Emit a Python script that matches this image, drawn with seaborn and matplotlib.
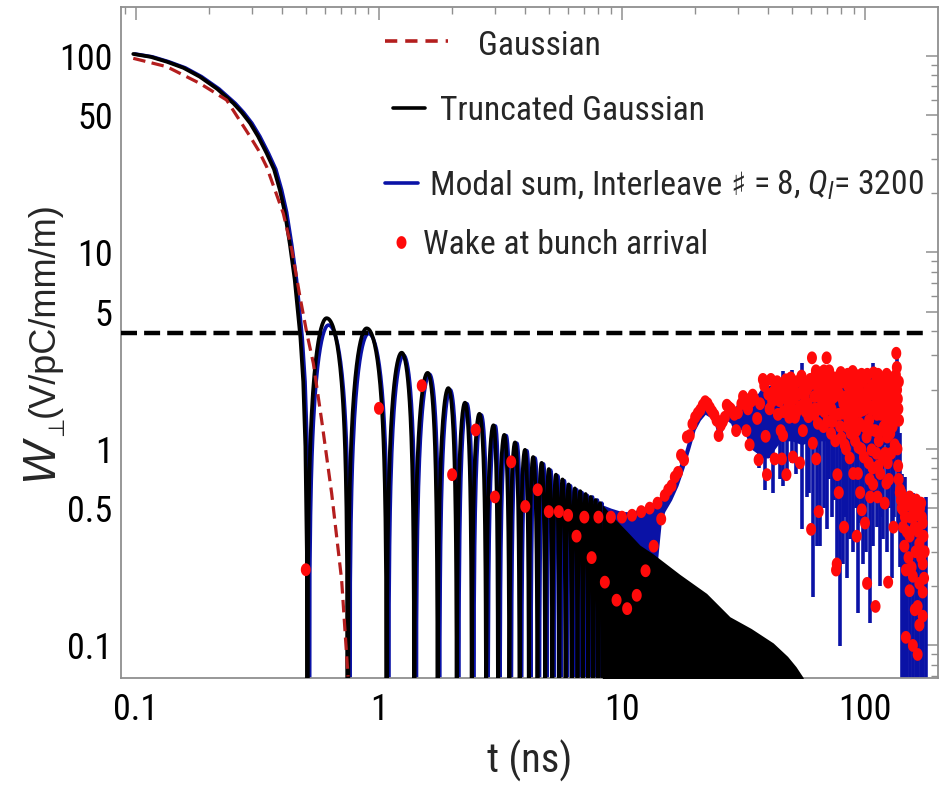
import numpy as np
import matplotlib
matplotlib.use("Agg")
import matplotlib.pyplot as plt
import seaborn as sns
from matplotlib import font_manager
from matplotlib.path import Path
from matplotlib.lines import Line2D
from matplotlib.ticker import LogLocator, NullFormatter
import matplotlib.transforms as mtransforms

# ---------------- data ----------------
gauss_t = [0.0975, 0.134, 0.183, 0.236, 0.295, 0.319, 0.345, 0.386, 0.404, 0.438,
           0.473, 0.505, 0.537, 0.581, 0.639, 0.702, 0.746]
gauss_w = [97.3, 88.2, 72.6, 59.7, 38.9, 33.2, 27.3, 18.5, 15.8, 10.3,
           5.96, 3.88, 2.73, 1.40, 0.593, 0.216, 0.0695]

# truncated Gaussian: initial decay, then lobes between zero crossings
tg_decay_t = [0.0975, 0.115, 0.134, 0.157, 0.183, 0.216, 0.252, 0.273, 0.295, 0.318, 0.345,
              0.370, 0.391, 0.410, 0.430, 0.450, 0.465, 0.475, 0.488, 0.498, 0.505]
tg_decay_w = [102.4, 99.0, 93.5, 87.0, 78.5, 68.0, 57.4, 51.5, 45.5, 39.0, 32.0,
              26.5, 20.8, 16.0, 11.0, 7.3, 4.8, 3.7, 2.2, 1.03, 0.3]
tg_zero_t = [0.507, 0.744, 1.076, 1.397, 1.744, 2.09, 2.41, 2.76, 3.09, 3.44, 3.79, 4.14,
             4.49, 4.83, 5.17, 5.52, 5.86, 6.22, 6.56, 6.9, 7.26, 7.6, 7.95, 8.3]
tg_peak_t = [0.609, 0.89, 1.24, 1.586, 1.93, 2.26, 2.59, 2.96, 3.28, 3.63, 3.99, 4.31,
             4.67, 5.0, 5.35, 5.69, 6.03, 6.4, 6.73, 7.08, 7.43, 7.78, 8.12]
tg_peak_w = [4.63, 4.11, 3.09, 2.44, 2.04, 1.72, 1.51, 1.32, 1.18, 1.08, 0.99, 0.91,
             0.85, 0.79, 0.74, 0.70, 0.66, 0.63, 0.61, 0.59, 0.57, 0.55, 0.53]
# envelope of the dense (unresolved) oscillation region
tg_env_t = [8.3, 9.2, 10.5, 11.85, 13.4, 17.3, 22.3, 27.8, 34.0, 41.9, 48.0, 52.0, 55.7]
tg_env_w = [0.52, 0.45, 0.38, 0.324, 0.293, 0.23, 0.184, 0.14, 0.122, 0.103, 0.088, 0.078, 0.0686]

# modal sum
ms_peak_w = [4.27, 3.87, 3.0, 2.4, 2.0, 1.7, 1.49, 1.31, 1.17, 1.07, 0.98, 0.9,
             0.84, 0.78, 0.73, 0.69, 0.65, 0.62, 0.6, 0.58, 0.57, 0.55, 0.53]
ms_band_t = [8.3, 9, 10, 11, 12, 13, 13.5, 14, 14.5, 15, 16, 17, 18, 19, 20, 21, 22, 23, 24, 25,
             26, 27, 28, 29, 30, 32, 34, 36, 38, 40, 45, 50, 55, 60, 70, 80, 90, 100, 110, 120,
             130, 136]
ms_band_lo = [0.3, 0.3, 0.3, 0.28, 0.26, 0.26, 0.27, 0.27, 0.42, 0.48, 0.55, 0.65, 0.8, 1.0, 1.25,
              1.4, 1.5, 1.45, 1.35, 1.1, 1.25, 1.4, 1.35, 1.2, 1.3, 1.2, 1.0, 0.95, 0.9, 0.9,
              1.1, 1.1, 1.05, 1.1, 1.1, 1.05, 1.1, 1.0, 1.1, 1.05, 1.1, 1.0]
ms_band_hi = [0.52, 0.5, 0.48, 0.48, 0.5, 0.52, 0.54, 0.56, 0.58, 0.6, 0.68, 0.8, 0.95, 1.2, 1.45,
              1.6, 1.75, 1.65, 1.55, 1.45, 1.5, 1.7, 1.65, 1.6, 1.75, 1.85, 1.9, 1.9, 2.1, 2.1,
              2.2, 2.3, 2.3, 2.4, 2.3, 2.3, 2.3, 2.3, 2.3, 2.2, 2.2, 2.3]
ms_spike_t = [32.6, 34.7, 36.5, 38.8, 40.5, 42.0, 44.7, 45.9, 47.6, 49.9, 52.0, 55.2, 57.5,
              59.0, 60.9, 63.3, 65.3, 67.5, 69.5, 71.0, 72.9, 74.5, 76.5, 78.9, 81.0, 83.0,
              84.1, 87.0, 89.5, 91.5, 93.9, 96.0, 98.4, 101.0, 103.0, 104.8, 108.2, 110.0,
              112.0, 115.3, 117.0, 119.0, 122.8, 125.0, 128.8, 130.5, 132.0, 135.0, 136.5,
              139.0, 141.5, 143.5, 146.1, 149.0, 153.2, 158.1, 162.0, 165.8, 170.0, 173.9, 178.3]
ms_spike_lo = [1.24, 1.0, 0.8, 0.62, 0.9, 0.6, 0.7, 0.65, 0.7, 0.85, 0.75, 0.39, 0.57,
               0.6, 0.177, 0.32, 0.32, 0.5, 0.39, 0.7, 0.45, 0.55, 0.25, 0.099, 0.26, 0.45,
               0.22, 0.35, 0.3, 0.5, 0.146, 0.42, 0.26, 0.3, 0.55, 0.13, 0.32, 0.6,
               0.4, 0.2, 0.45, 0.35, 0.3, 0.5, 0.22, 0.38, 0.45, 0.85, 0.39,
               0.25, 0.001, 0.001, 0.001, 0.001, 0.001, 0.001, 0.001, 0.001, 0.001, 0.001, 0.001]
ms_spike_hi = [1.85, 1.9, 1.7, 1.9, 2.0, 1.95, 2.24, 2.5, 2.3, 2.52, 2.04, 2.73, 1.85,
               2.3, 2.52, 2.4, 2.5, 2.2, 2.24, 2.2, 1.8, 2.1, 2.0, 2.6, 2.2, 2.2,
               2.24, 2.0, 2.4, 2.3, 2.5, 2.2, 2.2, 2.3, 2.2, 2.5, 2.73, 2.3,
               2.0, 2.24, 2.1, 1.9, 2.3, 2.2, 2.1, 2.3, 2.2, 3.0, 2.7,
               1.2, 0.75, 0.7, 0.72, 0.6, 0.57, 0.6, 0.55, 0.55, 0.5, 0.53, 0.57]

# wake at bunch arrival
wake_t = [0.5, 1.0, 1.5, 2.0, 2.5, 3.0, 3.5, 4.0, 4.5, 5.0, 5.5, 6.0, 6.5, 7.0, 7.5, 8.0, 8.5,
          9.0, 9.5, 10.0, 10.5, 11.0, 11.5, 12.0, 12.5, 13.0, 13.5, 14.0, 14.5, 15.0, 15.5,
          16.0, 16.5, 17.0, 17.5, 18.0, 18.5, 19.0, 19.5, 20.0, 20.5, 21.0, 21.5, 22.0, 22.5,
          23.0, 23.5, 24.0, 24.5, 25.0, 25.5, 26.0, 26.5, 27.0, 27.5, 28.0, 28.5, 29.0, 29.5,
          30.0, 31.0, 31.5, 32.0, 32.5, 33.0, 33.5, 34.0, 34.5, 35.0, 36.0, 36.5, 37.0, 38.0,
          38.5, 39.0, 39.5, 40.0, 41.0, 42.0, 42.5, 43.0, 43.5, 44.5, 45.0, 45.0, 45.5, 46.0,
          46.5, 47.0, 47.5, 48.0, 48.5, 49.0, 50.0, 50.5, 51.0, 52.0, 52.5, 53.0, 54.0, 54.5,
          55.0, 55.5, 56.0, 57.0, 57.5, 58.0, 58.5, 59.5, 60.0, 60.5, 61.0, 61.5, 62.0, 62.5,
          63.0, 63.5, 64.0, 64.5, 65.5, 66.0, 66.5, 67.0, 67.5, 68.0, 68.5, 69.0, 69.5, 70.0,
          70.5, 71.0, 71.5, 72.0, 72.5, 73.0, 73.5, 74.0, 74.5, 75.0, 75.5, 76.0, 76.5, 77.0,
          77.5, 78.0, 78.5, 79.0, 80.0, 80.5, 81.0, 81.5, 82.0, 82.5, 83.0, 83.5, 84.0, 84.5,
          85.0, 85.5, 86.0, 86.5, 87.0, 87.5, 88.0, 88.5, 89.0, 89.5, 90.0, 90.5, 91.0, 91.5,
          92.0, 92.5, 93.0, 93.5, 94.0, 94.5, 95.0, 95.5, 96.0, 96.5, 97.0, 97.5, 98.0, 98.5,
          99.0, 99.5, 100.0, 100.5, 101.0, 101.5, 102.0, 102.5, 103.0, 103.5, 104.0, 104.5,
          105.0, 105.5, 106.0, 106.5, 107.0, 107.5, 108.0, 108.5, 109.0, 109.5, 110.0, 110.5,
          111.0, 111.5, 112.0, 112.5, 113.0, 113.5, 114.0, 114.5, 115.0, 115.5, 116.0, 116.5,
          117.0, 118.0, 118.5, 119.0, 119.5, 120.0, 120.5, 121.0, 121.5, 122.0, 122.5, 123.0,
          123.5, 124.0, 124.5, 125.0, 125.5, 126.0, 126.5, 127.0, 127.5, 128.0, 128.5, 129.0,
          129.5, 130.0, 130.5, 131.0, 131.5, 132.0, 132.5, 133.0, 133.5, 134.0, 134.5, 135.0,
          135.5, 136.0, 136.5, 136.9, 137.5, 138.0, 139.0, 139.5, 140.5, 141.0, 141.5, 143.4,
          143.4, 144.5, 145.2, 146.0, 147.3, 147.3, 148.5, 150.0, 151.0, 152.6, 152.6, 152.6,
          154.0, 155.5, 157.4, 157.4, 158.5, 160.3, 160.3, 161.5, 162.4, 162.4, 164.7, 164.7,
          165.5, 167.4, 167.4, 167.4, 168.5, 170.2, 170.2, 171.5, 172.8, 172.8, 172.8, 172.8,
          174.0, 175.0, 176.0,
          40.5, 41.5, 43.8, 44.0, 46.2, 47.2, 48.8, 49.5, 50.8, 51.5, 53.5, 54.8, 56.5, 58.8,
          59.2, 61.8, 62.8, 64.2, 65.0, 66.8, 67.8, 69.2, 71.2, 72.8, 74.8, 76.2, 77.8, 79.5,
          80.8, 82.8, 84.8, 86.8, 88.2, 90.2, 91.8, 93.2, 94.8, 96.8, 99.8, 102.2, 104.2,
          106.2, 108.8, 111.2, 113.2, 116.8, 118.2, 120.8, 122.8, 124.8, 126.8, 128.8, 130.8,
          133.8, 135.2, 137.2, 137.8]
wake_w = [0.243, 1.61, 2.1, 0.74, 1.25, 0.57, 0.86, 0.51, 0.62, 0.48, 0.48, 0.46, 0.36, 0.45,
          0.28, 0.45, 0.21, 0.45, 0.17, 0.45, 0.154, 0.46, 0.18, 0.48, 0.24, 0.50, 0.32, 0.53,
          0.44, 0.58, 0.62, 0.65, 0.72, 0.76, 0.93, 0.88, 1.15, 1.17, 1.34, 1.45, 1.52, 1.58,
          1.67, 1.74, 1.70, 1.62, 1.55, 1.49, 1.40, 1.17, 1.32, 1.38, 1.45, 1.67, 1.63, 1.60,
          1.55, 1.50, 1.24, 1.53, 1.70, 1.85, 1.80, 1.24, 1.60, 1.05, 1.75, 1.88, 1.80, 1.43,
          0.88, 1.70, 2.26, 2.10, 1.16, 0.74, 1.90, 2.26, 1.95, 0.89, 2.11, 2.20, 1.76, 1.24,
          2.0, 0.89, 1.17, 2.1, 1.88, 0.74, 1.95, 1.70, 2.05, 1.58, 0.91, 1.8, 1.52, 2.2, 1.90,
          0.85, 1.65, 1.95, 1.24, 2.19, 1.55, 2.0, 1.7, 1.46, 2.26, 0.39, 2.91, 1.07, 2.3, 1.85,
          1.6, 0.89, 2.1, 1.35, 0.48, 2.44, 1.8, 2.2, 2.03, 1.3, 1.55, 2.35, 1.7, 2.91, 1.38,
          2.38, 1.6, 2.1, 1.90, 1.2, 1.8, 1.38, 2.20, 1.5, 2.3, 1.1, 0.242, 0.26, 0.74,
          2.1, 0.60, 1.9, 1.3, 1.14, 2.2, 1.52, 1.7, 0.40, 1.05, 2.3, 1.00, 1.85, 1.3,
          2.1, 1.41, 1.6, 0.9, 2.0, 1.2, 1.75, 2.2, 2.48, 0.75, 1.5, 1.9, 1.1, 2.1,
          1.24, 0.36, 1.7, 0.75, 1.02, 2.0, 1.35, 0.60, 1.8, 1.0, 0.49, 2.2, 1.58, 2.26,
          0.91, 1.3, 0.42, 1.9, 2.3, 1.15, 0.207, 1.7, 2.0, 0.85, 1.4, 0.7,
          0.57, 1.9, 1.25, 0.99, 2.1, 0.8, 0.66, 2.44, 1.6, 1.95, 1.24, 0.158,
          2.2, 0.95, 1.5, 0.57, 2.0, 0.82, 1.1, 2.3, 1.74, 0.75, 1.9, 1.5,
          1.24, 2.1, 0.9, 1.7, 1.3, 2.2, 0.53, 0.95, 1.75, 1.45, 0.67, 2.0,
          1.15, 0.85, 0.21, 1.6, 0.7, 1.9, 2.26, 1.2, 2.1, 0.95, 1.41, 1.7,
          2.2, 1.3, 1.91, 0.40, 2.0, 1.5, 1.05, 2.2, 1.8, 2.38, 3.07, 1.61,
          2.0, 1.0, 1.8, 0.82, 0.7, 1.4, 0.6, 0.62, 0.55, 0.60, 0.50, 0.49,
          0.40, 0.55, 0.32, 0.45, 0.242, 0.11, 0.38, 0.52, 0.28, 0.57, 0.36, 0.19,
          0.45, 0.25, 0.225, 0.10, 0.5, 0.152, 0.40, 0.3, 0.55, 0.46, 0.158, 0.09,
          0.38, 0.33, 0.207, 0.127, 0.5, 0.53, 0.28, 0.45, 0.42, 0.26, 0.187, 0.141,
          0.36, 0.22, 0.3,
          1.6, 1.75, 1.5, 1.95, 1.55, 2.25, 1.45, 2.3, 2.0, 1.45, 1.6, 2.35, 1.85, 2.1,
          1.6, 1.5, 2.5, 1.9, 1.6, 1.6, 2.5, 1.9, 2.5, 1.6, 1.85, 2.0, 1.5, 2.45,
          1.8, 1.6, 2.4, 1.45, 1.35, 2.4, 1.6, 2.35, 1.55, 2.4, 1.6, 2.4, 1.9,
          1.6, 1.9, 1.7, 2.4, 2.3, 1.55, 1.9, 2.4, 1.9, 1.6, 2.3, 1.6,
          1.6, 2.6, 1.6, 2.2]

threshold_w = 3.88
threshold_tmax = 180.0

legend_labels = ["Gaussian", "Truncated Gaussian",
                 "Modal sum, Interleave \u266f = 8, $Q_l$= 3200", "Wake at bunch arrival"]

# ---------------- style ----------------
sns.set_theme(style="white")
fl = font_manager.fontManager.ttflist
names = {f.name for f in fl}
MAIN, STRETCH = None, "normal"
for n in ["Liberation Sans Narrow", "Arial Narrow", "Roboto Condensed", "Open Sans Condensed",
          "Noto Sans Condensed", "DejaVu Sans Condensed", "Noto Sans SemiCondensed",
          "Open Sans SemiCondensed"]:
    if n in names:
        MAIN = n
        break
if MAIN is None:
    for fam in ["Noto Sans", "Open Sans", "DejaVu Sans", "Roboto"]:
        hit = [f for f in fl if f.name == fam and f.style == "normal"
               and f.stretch in ("condensed", "semi-condensed")
               and f.weight in (400, "normal", "regular", "book")]
        if hit:
            MAIN, STRETCH = fam, hit[0].stretch
            break
if MAIN is None:
    MAIN = "Liberation Sans"
REG = "Liberation Sans"
plt.rcParams["font.family"] = [MAIN, "DejaVu Sans"]
plt.rcParams["font.stretch"] = STRETCH
plt.rcParams["mathtext.fontset"] = "custom"
plt.rcParams["mathtext.rm"] = MAIN
plt.rcParams["mathtext.it"] = MAIN + ":italic"
plt.rcParams["mathtext.fallback"] = "stixsans"

RED_DARK = "#b41e1e"
BLUE = "#0a12a6"
RED = "#ff0a0a"
GRAY = "#8f8f8f"

W_FIG, H_FIG = 941, 793
fig = plt.figure(figsize=(W_FIG / 100, H_FIG / 100), dpi=100)
renderer = fig.canvas.get_renderer()


def text_w(s, size, family=None):
    t = fig.text(0, 0, s, fontsize=size, family=family or [MAIN, "DejaVu Sans"])
    w = t.get_window_extent(renderer=renderer).width
    t.remove()
    return w


def fit_size(s, target_px, cap, family=None):
    return min(cap, 20 * target_px / text_w(s, 20, family))


LEG_SIZE = 1.04 * min(fit_size("Gaussian", 129, 26), fit_size("Truncated Gaussian", 257, 26),
                      fit_size("Modal sum, Interleave # = 8, $Q_l$= 3200", 490, 26),
                      fit_size("Wake at bunch arrival", 274, 26))
TICK_SIZE = min(30, fit_size("100", 43, 40) * 1.25)
XLAB_SIZE = min(32, fit_size("t (ns)", 76, 40) * 1.12)

ax = fig.add_axes([121 / W_FIG, 1 - 678 / H_FIG, 817 / W_FIG, 671.5 / H_FIG])
ax.set_xscale("log")
ax.set_yscale("log")
ax.set_xlim(0.0868, 199.7)
ax.set_ylim(0.0683, 178.6)

# elliptical dot (the reference is horizontally squeezed)
th = np.linspace(0, 2 * np.pi, 48)
ELLIPSE = Path(np.column_stack([0.78 * np.cos(th), np.sin(th)]), closed=True)

FLOOR = 1e-4


def lobes(zeros, peaks_t, peaks_w):
    xs, ys = [], []
    s = np.linspace(0.0, 1.0, 30)
    for z0, z1, tp, wp in zip(zeros[:-1], zeros[1:], peaks_t, peaks_w):
        xs.extend(z0 + (tp - z0) * s)
        ys.extend(np.maximum(wp * np.sin(0.5 * np.pi * s), FLOOR))
        xs.extend(tp + (z1 - tp) * s[1:])
        ys.extend(np.maximum(wp * np.cos(0.5 * np.pi * s[1:]), FLOOR))
    return np.array(xs), np.array(ys)


lob_t, lob_w = lobes(tg_zero_t, tg_peak_t, tg_peak_w)
blob_t, blob_w = lobes(tg_zero_t, tg_peak_t, ms_peak_w)

tg_t = np.concatenate([tg_decay_t, lob_t])
tg_w = np.concatenate([tg_decay_w, lob_w])
ms_t = np.concatenate([tg_decay_t, blob_t])
ms_w = np.concatenate([tg_decay_w, blob_w])

shift = mtransforms.offset_copy(ax.transData, fig=fig, x=1.3, y=0, units="points")

# modal sum (blue) underneath
ax.plot(ms_t, ms_w, color=BLUE, lw=2.6, transform=shift, zorder=2)
ax.fill_between(ms_band_t, ms_band_lo, ms_band_hi, color=BLUE, lw=0, zorder=2)
ax.vlines(ms_spike_t, ms_spike_lo, ms_spike_hi, color=BLUE, lw=2.6, zorder=2)

# truncated Gaussian (black)
sns.lineplot(x=tg_t, y=tg_w, ax=ax, color="black", lw=2.7, sort=False,
             estimator=None, zorder=3)
ax.fill_between(tg_env_t, FLOOR, tg_env_w, color="black", lw=0, zorder=3)

# Gaussian (dark red dashed)
sns.lineplot(x=gauss_t, y=gauss_w, ax=ax, color=RED_DARK, lw=2.3, sort=False,
             estimator=None, zorder=4, linestyle=(0, (3.9, 2.0)))

# threshold line
ax.hlines(threshold_w, 0.0868, threshold_tmax, color="black", lw=3.2,
          linestyles=[(0, (3.6, 1.6))], zorder=5)

# wake at bunch arrival
sns.scatterplot(x=wake_t, y=wake_w, ax=ax, marker=ELLIPSE, s=85, color=RED,
                edgecolor="none", linewidth=0, zorder=6)

# ---------------- axes cosmetics ----------------
ax.set_xticks([0.1, 1, 10, 100], labels=["0.1", "1", "10", "100"])
ax.set_yticks([0.1, 0.5, 1, 5, 10, 50, 100],
              labels=["0.1", "0.5", "1", "5", "10", "50", "100"])
ax.xaxis.set_minor_locator(LogLocator(base=10, subs=np.arange(2, 10), numticks=30))
ax.yaxis.set_minor_locator(LogLocator(base=10, subs=np.arange(2, 10), numticks=30))
ax.xaxis.set_minor_formatter(NullFormatter())
ax.yaxis.set_minor_formatter(NullFormatter())
ax.tick_params(which="major", direction="in", length=9, width=1.1, color=GRAY,
               top=True, right=True, labelsize=TICK_SIZE, pad=6, labelcolor="black")
ax.tick_params(axis="x", which="major", pad=10)
ax.tick_params(which="minor", direction="in", length=5, width=1.0, color=GRAY,
               top=True, right=True)
for sp in ax.spines.values():
    sp.set_color(GRAY)
    sp.set_linewidth(1.3)

ax.set_xlabel("t (ns)", fontsize=XLAB_SIZE)
ax.xaxis.set_label_coords(0.5, -0.092)
ax.xaxis.label.set_va("top")


def fx(px):
    return px / W_FIG


def fy(py):
    return 1 - py / H_FIG


# y label: W_perp (V/pC/mm/m)
fig.text(fx(44), fy(310), "(V/pC/mm/m)", rotation=90, ha="center", va="center",
         fontsize=26, family=[REG, "DejaVu Sans"], stretch="normal")
fig.text(fx(40), fy(459), "W", rotation=90, ha="center", va="center",
         fontsize=33, style="italic", family=[REG, "DejaVu Sans"], stretch="normal")
fig.text(fx(57), fy(426), "\u22a5", rotation=90, ha="center", va="center",
         fontsize=16, family=["DejaVu Sans"], stretch="normal")

# legend (drawn by hand to follow the irregular layout of the reference)
fig.add_artist(Line2D([fx(385), fx(448)], [fy(41), fy(41)], color=RED_DARK, lw=2.6,
                      linestyle=(0, (3.4, 2.2))))
fig.text(fx(478), fy(55), legend_labels[0], ha="left", va="baseline", fontsize=LEG_SIZE)
fig.add_artist(Line2D([fx(393), fx(425)], [fy(108), fy(108)], color="black", lw=2.6))
fig.text(fx(440), fy(120), legend_labels[1], ha="left", va="baseline", fontsize=LEG_SIZE)
fig.add_artist(Line2D([fx(385), fx(418)], [fy(183), fy(183)], color=BLUE, lw=2.6))
# third label: the sharp sign comes from DejaVu Sans (the narrow face lacks it)
pre, rest = legend_labels[2].split("\u266f")
pre = pre.rstrip()
rest = rest.lstrip()
space = text_w("n n", LEG_SIZE) - text_w("nn", LEG_SIZE)
x0 = 430
fig.text(fx(x0), fy(195), pre, ha="left", va="baseline", fontsize=LEG_SIZE)
x1 = x0 + text_w(pre, LEG_SIZE) + space
fig.text(fx(x1), fy(195), "\u266f", ha="left", va="baseline", fontsize=LEG_SIZE * 0.95,
         family=["DejaVu Sans"], stretch="normal")
x2 = x1 + text_w("\u266f", LEG_SIZE * 0.95, ["DejaVu Sans"]) + space
fig.text(fx(x2), fy(195), rest, ha="left", va="baseline", fontsize=LEG_SIZE)
fig.add_artist(Line2D([fx(401)], [fy(242)], marker=ELLIPSE, markersize=9.2, color=RED,
                      markeredgewidth=0, linestyle="none"))
fig.text(fx(423), fy(254), legend_labels[3], ha="left", va="baseline", fontsize=LEG_SIZE)

fig.savefig("out.png", dpi=100)
